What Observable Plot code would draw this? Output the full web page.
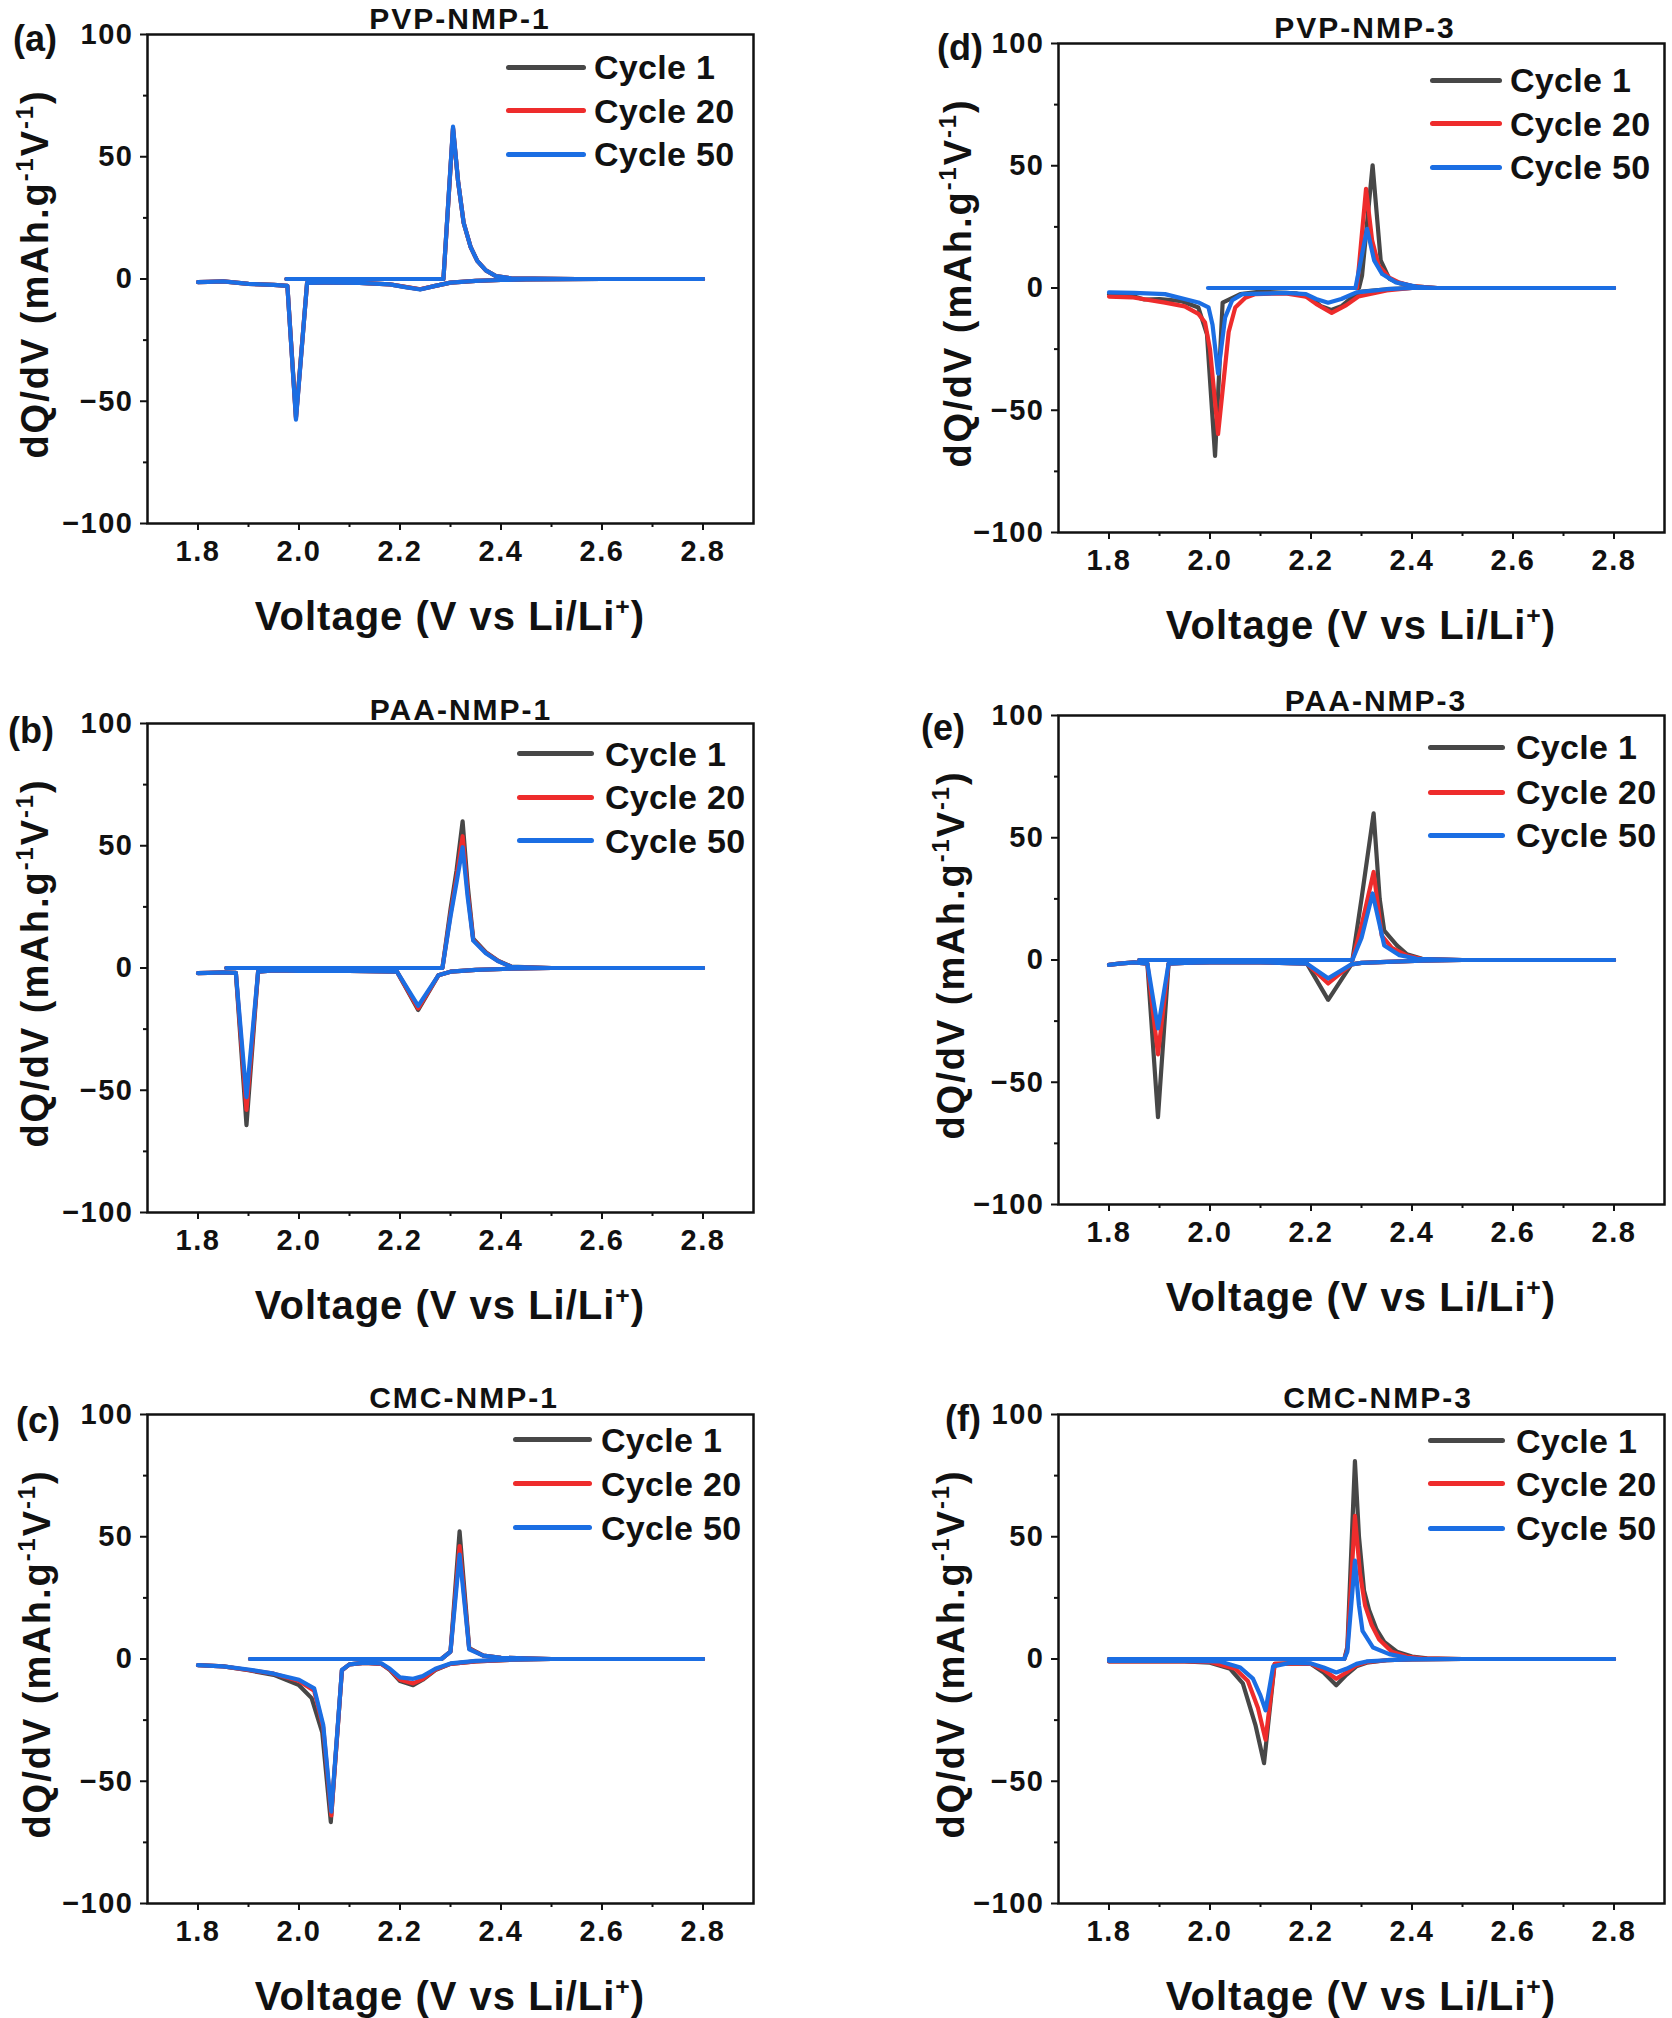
<!DOCTYPE html>
<html>
<head>
<meta charset="utf-8">
<script src="https://cdn.jsdelivr.net/npm/d3@7"></script>
<script src="https://cdn.jsdelivr.net/npm/@observablehq/plot@0.6"></script>
<style>
  html, body { margin: 0; padding: 0; background: #fff; }
  #page { position: relative; width: 1672px; height: 2018px; overflow: hidden; background: #fff;
          font-family: "Liberation Sans", Arial, Helvetica, sans-serif; font-weight: bold; color: #111; }
  .abs { position: absolute; white-space: nowrap; line-height: 1; }
  .ctr { transform: translate(-50%, -50%); }
  .vlab { transform: translate(-50%, -50%) rotate(-90deg); }
  sup { font-size: 0.62em; vertical-align: 0.62em; line-height: 0; }
  svg { overflow: visible; }
</style>
</head>
<body>
<div id="page"></div>
<script>
// ---------- shared categories / ticks ----------
const cycles = ["Cycle 1", "Cycle 20", "Cycle 50"];
const cycleColors = ["#474747", "#ee2c2c", "#1b6ee3"];
const xTicks = [1.8, 2.0, 2.2, 2.4, 2.6, 2.8];
const xMinorTicks = [1.9, 2.1, 2.3, 2.5, 2.7];
const yTicks = [-100, -50, 0, 50, 100];
const yMinorTicks = [-75, -25, 25, 75];
const panelTitles = ["PVP-NMP-1", "PAA-NMP-1", "CMC-NMP-1", "PVP-NMP-3", "PAA-NMP-3", "CMC-NMP-3"];
const panelLetters = ["(a)", "(b)", "(c)", "(d)", "(e)", "(f)"];

// ---------- (a) PVP-NMP-1 : [voltage, dQ/dV] ----------
const a_c1_dis = [[2.80,0],[2.60,0],[2.45,-0.2],[2.40,-0.4],[2.35,-0.8],[2.30,-1.5],[2.27,-2.8],[2.24,-4.2],[2.21,-3.2],[2.18,-2.2],[2.12,-1.6],[2.05,-1.5],[2.016,-1.6],[1.994,-56.5],[1.977,-2.8],[1.95,-2.4],[1.90,-2.0],[1.85,-1.0],[1.82,-1.2],[1.80,-1.3]];
const a_c1_chg = [[1.975,0],[2.10,0],[2.286,0],[2.305,61.5],[2.315,40],[2.326,23],[2.34,13],[2.353,7.4],[2.37,3.5],[2.39,1.2],[2.42,0.3],[2.55,0],[2.80,0]];
const a_c20_dis = [[2.80,0],[2.60,0],[2.45,-0.2],[2.40,-0.4],[2.35,-0.8],[2.30,-1.5],[2.27,-2.8],[2.24,-4.2],[2.21,-3.2],[2.18,-2.2],[2.12,-1.6],[2.05,-1.5],[2.016,-1.6],[1.994,-57],[1.977,-2.8],[1.95,-2.4],[1.90,-2.0],[1.85,-1.0],[1.82,-1.2],[1.80,-1.3]];
const a_c20_chg = [[1.975,0],[2.10,0],[2.286,0],[2.305,61.8],[2.315,40],[2.326,23],[2.34,13],[2.353,7.4],[2.37,3.5],[2.39,1.2],[2.42,0.3],[2.55,0],[2.80,0]];
const a_c50_dis = [[2.80,0],[2.60,0],[2.45,-0.2],[2.40,-0.4],[2.35,-0.8],[2.30,-1.5],[2.27,-2.8],[2.24,-4.3],[2.21,-3.3],[2.18,-2.2],[2.12,-1.6],[2.05,-1.5],[2.016,-1.6],[1.994,-57.5],[1.977,-2.8],[1.95,-2.4],[1.90,-2.0],[1.85,-1.0],[1.82,-1.2],[1.80,-1.3]];
const a_c50_chg = [[1.975,0],[2.10,0],[2.286,0],[2.305,62.3],[2.315,40],[2.326,23],[2.34,13],[2.353,7.4],[2.37,3.5],[2.39,1.2],[2.42,0.3],[2.55,0],[2.80,0]];

// ---------- (b) PAA-NMP-1 ----------
const b_c1_dis = [[2.80,0],[2.50,0],[2.42,-0.3],[2.35,-0.8],[2.30,-1.5],[2.276,-3],[2.236,-17.2],[2.194,-1.5],[2.10,-1.2],[2.00,-1.2],[1.95,-1.0],[1.919,-1.5],[1.896,-64.3],[1.875,-2],[1.85,-1.8],[1.82,-2],[1.80,-2.1]];
const b_c1_chg = [[1.856,0],[2.10,0],[2.284,0],[2.30,24],[2.312,40],[2.324,60],[2.334,34],[2.345,12],[2.37,6.5],[2.395,2.9],[2.42,0.6],[2.50,0],[2.80,0]];
const b_c20_dis = [[2.80,0],[2.50,0],[2.42,-0.3],[2.35,-0.8],[2.30,-1.5],[2.276,-3],[2.236,-16.5],[2.194,-1.5],[2.10,-1.2],[2.00,-1.2],[1.95,-1.0],[1.919,-1.5],[1.896,-58],[1.875,-2],[1.85,-1.8],[1.82,-2],[1.80,-2.1]];
const b_c20_chg = [[1.856,0],[2.10,0],[2.284,0],[2.30,22],[2.312,37],[2.324,53.9],[2.334,31],[2.345,11.5],[2.37,6.2],[2.395,2.8],[2.42,0.5],[2.50,0],[2.80,0]];
const b_c50_dis = [[2.80,0],[2.50,0],[2.42,-0.3],[2.35,-0.8],[2.30,-1.5],[2.276,-3],[2.236,-15.5],[2.194,-1.5],[2.10,-1.2],[2.00,-1.2],[1.95,-1.0],[1.919,-1.5],[1.896,-52.8],[1.875,-2],[1.85,-1.8],[1.82,-2],[1.80,-2.1]];
const b_c50_chg = [[1.856,0],[2.10,0],[2.284,0],[2.30,21],[2.312,35],[2.324,49.4],[2.334,29],[2.345,11.2],[2.37,6],[2.395,2.7],[2.42,0.5],[2.50,0],[2.80,0]];

// ---------- (c) CMC-NMP-1 ----------
const c_c1_dis = [[2.80,0],[2.50,0],[2.42,-0.3],[2.35,-1],[2.30,-2],[2.27,-4.5],[2.245,-8.5],[2.226,-10.7],[2.20,-9],[2.18,-4.5],[2.163,-2],[2.13,-1.6],[2.10,-2.2],[2.085,-4.6],[2.063,-66.7],[2.046,-30],[2.025,-16],[2.00,-10.7],[1.95,-6.5],[1.90,-4.6],[1.85,-3],[1.80,-2.5]];
const c_c1_chg = [[1.903,0],[2.10,0],[2.282,0],[2.30,3],[2.318,52.2],[2.337,4.5],[2.365,1.4],[2.40,0.5],[2.50,0],[2.80,0]];
const c_c20_dis = [[2.80,0],[2.50,0],[2.42,-0.3],[2.35,-1],[2.30,-2],[2.27,-4.3],[2.245,-8.2],[2.226,-10],[2.20,-8.5],[2.18,-4.3],[2.163,-2],[2.13,-1.6],[2.10,-2.2],[2.085,-4.6],[2.064,-64],[2.048,-28],[2.03,-13],[2.00,-9],[1.95,-6],[1.90,-4.5],[1.85,-3],[1.80,-2.5]];
const c_c20_chg = [[1.903,0],[2.10,0],[2.282,0],[2.30,3],[2.318,46.2],[2.337,4.2],[2.365,1.4],[2.40,0.5],[2.50,0],[2.80,0]];
const c_c50_dis = [[2.80,0],[2.50,0],[2.42,-0.3],[2.35,-0.8],[2.30,-1.8],[2.27,-4],[2.245,-7],[2.226,-8.1],[2.20,-7.5],[2.18,-4],[2.163,-1.8],[2.13,-1.5],[2.10,-2.2],[2.085,-4.5],[2.064,-62.4],[2.048,-27],[2.03,-12],[2.00,-8.5],[1.95,-6],[1.90,-4.3],[1.85,-3],[1.80,-2.5]];
const c_c50_chg = [[1.903,0],[2.10,0],[2.282,0],[2.30,3],[2.318,42.7],[2.337,4],[2.365,1.4],[2.40,0.5],[2.50,0],[2.80,0]];

// ---------- (d) PVP-NMP-3 ----------
const d_c1_dis = [[2.80,0],[2.50,0],[2.40,0],[2.35,-0.5],[2.30,-1.5],[2.28,-4],[2.26,-7.5],[2.24,-9],[2.22,-7.5],[2.20,-4],[2.17,-2.2],[2.10,-1.5],[2.06,-2.5],[2.025,-6],[2.01,-68.7],[1.994,-19],[1.977,-8],[1.944,-5.4],[1.90,-4.5],[1.87,-4.7],[1.85,-3.5],[1.80,-2.5]];
const d_c1_chg = [[2.08,0],[2.20,0],[2.295,0],[2.301,5],[2.322,50.2],[2.338,11.3],[2.355,3.8],[2.375,2],[2.40,0.8],[2.45,0],[2.80,0]];
const d_c20_dis = [[2.80,0],[2.50,0],[2.40,0],[2.35,-1],[2.294,-3.5],[2.27,-7],[2.241,-10.2],[2.21,-6.5],[2.19,-3.5],[2.15,-2.2],[2.09,-2.5],[2.07,-4],[2.05,-8],[2.037,-18],[2.016,-59.7],[2.00,-25],[1.99,-14],[1.977,-10.6],[1.95,-7.5],[1.911,-6],[1.845,-3.8],[1.80,-3.5]];
const d_c20_chg = [[2.08,0],[2.20,0],[2.291,0],[2.309,40.6],[2.321,19.5],[2.334,9.2],[2.355,4.2],[2.375,2.2],[2.40,0.8],[2.45,0],[2.80,0]];
const d_c50_dis = [[2.80,0],[2.50,0],[2.40,0],[2.35,-0.5],[2.29,-1.8],[2.26,-4.5],[2.234,-6],[2.21,-4.5],[2.19,-2.5],[2.15,-2],[2.064,-2.5],[2.044,-5],[2.03,-12],[2.016,-35],[2.005,-15],[1.997,-7.9],[1.977,-5.9],[1.911,-2.5],[1.85,-2],[1.80,-1.8]];
const d_c50_chg = [[1.996,0],[2.20,0],[2.288,0],[2.311,24.2],[2.325,11.3],[2.341,5.7],[2.368,2.3],[2.41,0.5],[2.45,0],[2.80,0]];

// ---------- (e) PAA-NMP-3 ----------
const e_c1_dis = [[2.80,0],[2.50,0],[2.42,-0.3],[2.35,-0.8],[2.30,-1.2],[2.28,-1.8],[2.234,-16.3],[2.192,-1.5],[2.10,-1],[2.00,-1],[1.95,-1.2],[1.918,-1.5],[1.897,-64.3],[1.876,-1.5],[1.85,-1],[1.82,-1.5],[1.80,-2]];
const e_c1_chg = [[1.86,0],[2.10,0],[2.282,0],[2.30,25],[2.324,60],[2.336,25],[2.345,12],[2.37,6],[2.39,2.3],[2.42,0.5],[2.50,0],[2.80,0]];
const e_c20_dis = [[2.80,0],[2.50,0],[2.42,-0.3],[2.35,-0.8],[2.30,-1.2],[2.28,-1.8],[2.234,-9.6],[2.192,-1.5],[2.10,-1],[2.00,-1],[1.95,-1.2],[1.918,-1.5],[1.897,-38.6],[1.876,-1.5],[1.85,-1],[1.82,-1.5],[1.80,-2]];
const e_c20_chg = [[1.86,0],[2.10,0],[2.282,0],[2.30,14],[2.324,36],[2.34,10],[2.36,5],[2.39,1.8],[2.42,0.4],[2.50,0],[2.80,0]];
const e_c50_dis = [[2.80,0],[2.50,0],[2.42,-0.3],[2.35,-0.8],[2.30,-1.2],[2.28,-1.8],[2.234,-7.5],[2.192,-1.5],[2.10,-1],[2.00,-1],[1.95,-1.2],[1.918,-1.5],[1.897,-28],[1.876,-1.5],[1.85,-1],[1.82,-1.5],[1.80,-2]];
const e_c50_chg = [[1.86,0],[2.10,0],[2.282,0],[2.30,9],[2.322,27.2],[2.345,5.9],[2.375,2],[2.41,0.5],[2.50,0],[2.80,0]];

// ---------- (f) CMC-NMP-3 ----------
const f_c1_dis = [[2.80,0],[2.50,0],[2.40,-0.2],[2.35,-0.5],[2.31,-1.5],[2.29,-3],[2.27,-6.5],[2.25,-10.7],[2.225,-5.5],[2.20,-2],[2.16,-1.8],[2.128,-2],[2.107,-42.6],[2.09,-27],[2.065,-10],[2.04,-4],[2.00,-1.5],[1.95,-1],[1.80,-1]];
const f_c1_chg = [[1.80,0],[2.10,0],[2.266,0],[2.272,5],[2.287,80.9],[2.295,50],[2.305,28],[2.315,20],[2.33,12],[2.345,7],[2.37,3],[2.40,1],[2.43,0.3],[2.50,0],[2.80,0]];
const f_c20_dis = [[2.80,0],[2.50,0],[2.40,-0.2],[2.35,-0.5],[2.31,-1.3],[2.29,-2.5],[2.27,-5.5],[2.25,-8.1],[2.225,-4.5],[2.20,-2],[2.16,-1.8],[2.128,-2],[2.11,-33],[2.095,-20],[2.075,-9],[2.05,-4],[2.00,-1.2],[1.95,-1],[1.80,-1]];
const f_c20_chg = [[1.80,0],[2.10,0],[2.266,0],[2.272,4],[2.287,58.5],[2.297,35],[2.307,22],[2.32,14],[2.335,8],[2.36,3],[2.39,1],[2.42,0.3],[2.50,0],[2.80,0]];
const f_c50_dis = [[2.80,0],[2.50,0],[2.40,-0.2],[2.35,-0.5],[2.31,-1],[2.29,-2],[2.27,-4],[2.25,-5.5],[2.225,-3.5],[2.20,-1.8],[2.16,-1.5],[2.125,-3],[2.11,-21],[2.10,-15],[2.085,-8],[2.06,-3.5],[2.02,-1],[1.95,-0.8],[1.80,-0.8]];
const f_c50_chg = [[1.80,0],[2.10,0],[2.266,0],[2.272,3],[2.287,40.2],[2.295,22],[2.302,11.5],[2.323,4.7],[2.355,2],[2.39,0.5],[2.42,0],[2.80,0]];

// ---------- assemble tables ----------
const panelSeries = [
  [[a_c1_dis, a_c1_chg], [a_c20_dis, a_c20_chg], [a_c50_dis, a_c50_chg]],
  [[b_c1_dis, b_c1_chg], [b_c20_dis, b_c20_chg], [b_c50_dis, b_c50_chg]],
  [[c_c1_dis, c_c1_chg], [c_c20_dis, c_c20_chg], [c_c50_dis, c_c50_chg]],
  [[d_c1_dis, d_c1_chg], [d_c20_dis, d_c20_chg], [d_c50_dis, d_c50_chg]],
  [[e_c1_dis, e_c1_chg], [e_c20_dis, e_c20_chg], [e_c50_dis, e_c50_chg]],
  [[f_c1_dis, f_c1_chg], [f_c20_dis, f_c20_chg], [f_c50_dis, f_c50_chg]]
];

// layout (page pixels): frame left/top, title centre, letter, y-label centre, legend
const layout = [
  {L:147,  T:34,   title:[460,19],    letter:[13,39],    ylab:35,  leg:{x0:506,  x1:586,  tx:594,  rows:[67,110.6,154]}},
  {L:147,  T:723,  title:[461,710],   letter:[8,731],    ylab:35,  leg:{x0:517,  x1:594,  tx:605,  rows:[753.7,797,840.5]}},
  {L:147,  T:1414, title:[464,1398],  letter:[16,1421],  ylab:37,  leg:{x0:513,  x1:592,  tx:601,  rows:[1439.7,1483.8,1527.9]}},
  {L:1058, T:43,   title:[1365,28],   letter:[937,48],   ylab:958, leg:{x0:1430, x1:1502, tx:1510, rows:[80,123.6,167]}},
  {L:1058, T:715,  title:[1376,701],  letter:[921,728],  ylab:951, leg:{x0:1428, x1:1505, tx:1516, rows:[747,792,835]}},
  {L:1058, T:1414, title:[1378,1398], letter:[945,1419], ylab:951, leg:{x0:1428, x1:1505, tx:1516, rows:[1440.6,1483.8,1528]}}
];
const FW = 606, FH = 489;
const mL = 100, mR = 12, mT = 12, mB = 60;

const page = document.getElementById("page");
function addDiv(html, x, y, cls, size, extra) {
  const d = document.createElement("div");
  d.className = "abs " + cls;
  d.style.left = x + "px";
  d.style.top = y + "px";
  d.style.fontSize = size + "px";
  if (extra) Object.assign(d.style, extra);
  d.innerHTML = html;
  page.appendChild(d);
  return d;
}

panelSeries.forEach((series, p) => {
  const rows = [];
  series.forEach((branches, ci) => {
    branches.forEach((pts, bi) => {
      pts.forEach(([v, q]) => rows.push({cycle: cycles[ci], key: cycles[ci] + "-" + bi, v, q}));
    });
  });
  const lay = layout[p];
  const chart = Plot.plot({
    width: FW + mL + mR,
    height: FH + mT + mB,
    marginLeft: mL, marginRight: mR, marginTop: mT, marginBottom: mB,
    x: {domain: [1.7, 2.9]},
    y: {domain: [-100, 100]},
    color: {domain: cycles, range: cycleColors},
    style: {fontFamily: '"Liberation Sans", Arial, sans-serif', fontWeight: "bold", fontSize: "29px",
            letterSpacing: "1.5px", color: "#111", background: "transparent", overflow: "visible"},
    marks: [
      Plot.line(rows, {x: "v", y: "q", z: "key", stroke: "cycle", strokeWidth: 4.2,
                       strokeLinejoin: "round", strokeLinecap: "round"}),
      Plot.frame({stroke: "#111", strokeWidth: 2.5}),
      Plot.axisX({ticks: xTicks, tickSize: 7, tickPadding: 10, tickFormat: d3.format(".1f"),
                  label: null, strokeWidth: 2}),
      Plot.axisX({ticks: xMinorTicks, tickSize: 4, tickFormat: () => "", label: null, strokeWidth: 2}),
      Plot.axisY({ticks: yTicks, tickSize: 7, tickPadding: 7, tickFormat: d3.format("d"),
                  label: null, strokeWidth: 2}),
      Plot.axisY({ticks: yMinorTicks, tickSize: 4, tickFormat: () => "", label: null, strokeWidth: 2})
    ]
  });
  chart.style.position = "absolute";
  chart.style.left = (lay.L - mL) + "px";
  chart.style.top = (lay.T - mT) + "px";
  page.appendChild(chart);

  // title, letter, axis labels
  addDiv(panelTitles[p], lay.title[0], lay.title[1], "ctr", 30, {letterSpacing: "2px"});
  addDiv(panelLetters[p], lay.letter[0], lay.letter[1], "", 36, {transform: "translateY(-50%)"});
  addDiv("dQ/dV (mAh.g<sup>-1</sup>V<sup>-1</sup>)", lay.ylab, lay.T + FH / 2 - 5, "vlab", 38, {letterSpacing: "2px"});
  addDiv("Voltage (V vs Li/Li<sup>+</sup>)", lay.L + FW / 2, lay.T + FH + 93, "ctr", 40, {letterSpacing: "1px"});

  // legend
  cycles.forEach((c, i) => {
    const y = lay.leg.rows[i];
    const ln = document.createElement("div");
    ln.className = "abs";
    Object.assign(ln.style, {left: lay.leg.x0 + "px", top: (y - 2.5) + "px", width: (lay.leg.x1 - lay.leg.x0) + "px",
                             height: "5px", background: cycleColors[i], borderRadius: "2.5px"});
    page.appendChild(ln);
    addDiv(c, lay.leg.tx, y, "", 34, {transform: "translateY(-50%)", letterSpacing: "0.3px"});
  });
});
</script>
</body>
</html>
